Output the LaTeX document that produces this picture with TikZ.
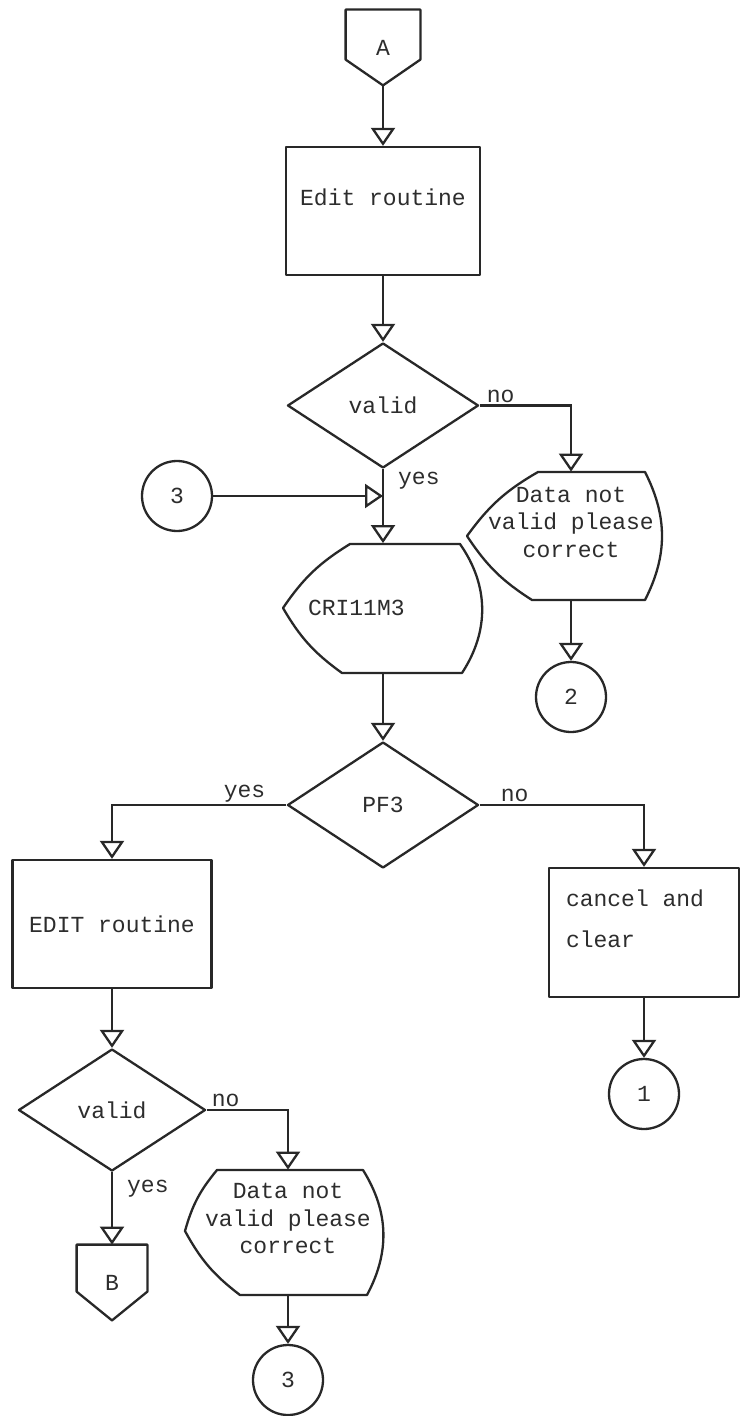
\documentclass[tikz,border=0pt]{standalone}
\usepackage{fontspec}
\setmainfont{Liberation Mono}[WordSpace={1,0,0}]
\usetikzlibrary{arrows.meta,calc,shapes.geometric}
\definecolor{figline}{RGB}{40,40,40}
\definecolor{figtext}{RGB}{45,45,45}
\tikzset{
  ln/.style      ={draw=figline, line width=1.15pt, line join=round},
  flow/.style    ={draw=figline, line width=1.15pt, -{Triangle[open,length=9pt,width=12pt]}},
  procbox/.style ={ln, rectangle, inner sep=0pt},
  decision/.style={ln, diamond, inner sep=0pt},
  connector/.style={ln, circle, minimum size=35pt, inner sep=0pt},
  outline/.style ={rectangle, inner sep=0pt},
  lab/.style     ={inner sep=1pt},
}

\begin{document}
\begin{tikzpicture}[x=0.5pt,y=-0.5pt,
  every node/.style={font=\fontsize{11.5pt}{13.8pt}\selectfont, text=figtext}]
  \fill[white] (0,0) rectangle (740,1416);
  \useasboundingbox (0,0) rectangle (740,1416);

  % entry connector
  \node[outline, minimum width=37pt, minimum height=37.5pt] (A) at (383,47.5) {A};
  \draw[ln] (A.north west) -- (A.north east) -- ($(A.north east)+(0,50)$) -- (A.south)
    -- ($(A.north west)+(0,50)$) -- cycle;

  \node[procbox, align=center, minimum width=97pt, minimum height=64pt] (edit) at (383,211) {Edit routine\\\mbox{}};
  \node[decision, minimum width=95.5pt, minimum height=62.5pt] (valid1) at (383,405.5) {valid};

  % message display, first check
  \node[outline, align=center, minimum width=55pt, minimum height=64pt] (msg1) at (571,536) {Data not\\valid please\\correct\\\mbox{}};
  \draw[ln] (467,536) to[bend left=12] (538,472) -- (645,472) to[bend left=27] (645,600)
    -- (532,600) to[bend left=12] (467,536) -- cycle;
  \node[connector] (two) at (571,697) {2};

  \node[connector] (three) at (177,496) {3};

  % screen display
  \node[outline, text width=75pt, align=left, minimum height=64.5pt] (screen) at (383,608) {CRI11M3};
  \draw[ln] (283,608) to[bend left=12] (350,544) -- (460,544) to[bend left=34] (462,673)
    -- (342,673) to[bend left=12] (283,608) -- cycle;

  \node[decision, minimum width=95.5pt, minimum height=63pt] (pf3) at (383,805) {PF3};

  \node[procbox, minimum width=99.5pt, minimum height=64pt] (editb) at (112,924) {EDIT routine};
  \node[procbox, text width=78pt, align=left, minimum width=95pt, minimum height=64.5pt] (cancel) at (644,932.5) {cancel\hspace{.6em}and\\[6.7pt]clear\\\mbox{}};
  \node[connector] (one) at (644,1094) {1};

  \node[decision, minimum width=93.5pt, minimum height=61pt] (valid2) at (112,1110) {valid};

  % message display, second check
  \node[outline, align=center, minimum width=60pt, minimum height=62.5pt] (msg2) at (288,1232.5) {Data not\\valid please\\correct\\\mbox{}};
  \draw[ln] (185,1231) to[bend left=12] (217,1170) -- (363,1170) to[bend left=30] (367,1295)
    -- (240,1295) to[bend left=12] (185,1231) -- cycle;
  \node[connector] (threeb) at (288,1380) {3};

  % exit connector
  \node[outline, minimum width=35pt, minimum height=37.5pt] (B) at (112,1282.5) {B};
  \draw[ln] (B.north west) -- (B.north east) -- ($(B.north east)+(0,47)$) -- (B.south)
    -- ($(B.north west)+(0,47)$) -- cycle;

  % flow lines
  \draw[flow] (A.south) -- (edit.north);
  \draw[flow] (edit.south) -- (valid1.north);
  \draw[flow] (valid1.east) -| (msg1.north) node[lab, pos=0, anchor=south west, xshift=2pt] {no};
  \draw[flow] (valid1.south) -- (screen.north) node[lab, pos=0.16, right=6pt] {yes};
  \draw[flow] (three.east) -- (three -| screen.north);
  \draw[flow] (msg1.south) -- (two.north);
  \draw[flow] (screen.south) -- (pf3.north);
  \draw[flow] (pf3.west) -| (editb.north) node[lab, pos=0, anchor=south east, xshift=-9pt] {yes};
  \draw[flow] (pf3.east) -| (cancel.north) node[lab, pos=0, anchor=south west, xshift=9pt] {no};
  \draw[flow] (cancel.south) -- (one.north);
  \draw[flow] (editb.south) -- (valid2.north);
  \draw[flow] (valid2.east) -| (msg2.north) node[lab, pos=0, anchor=south west, xshift=1pt] {no};
  \draw[flow] (valid2.south) -- (B.north) node[lab, pos=0.23, right=6pt] {yes};
  \draw[flow] (msg2.south) -- (threeb.north);
\end{tikzpicture}
\end{document}
